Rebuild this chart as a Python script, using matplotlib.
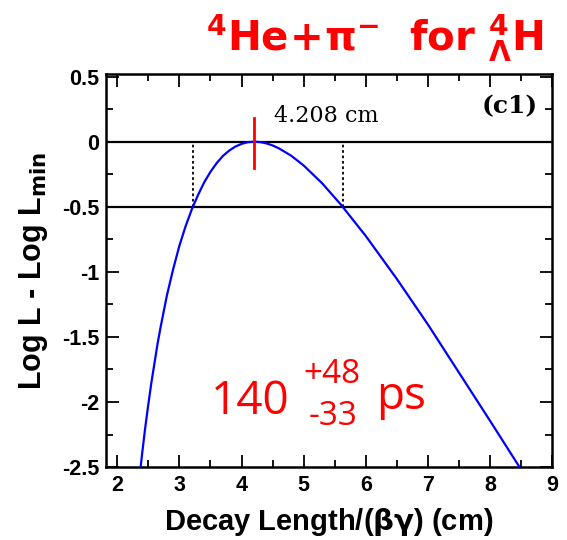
import matplotlib
matplotlib.use("Agg")
import matplotlib.pyplot as plt
from matplotlib.ticker import MultipleLocator

# likelihood scan: decay length/(beta gamma) in cm vs log L - log L_min
length = [2.33, 2.40, 2.45, 2.50, 2.55, 2.60, 2.65, 2.70, 2.80, 2.90, 3.00, 3.10,
          3.20, 3.30, 3.40, 3.50, 3.60, 3.70, 3.80, 3.90, 4.00, 4.10, 4.208, 4.30,
          4.40, 4.50, 4.60, 4.80, 5.00, 5.30, 5.60, 6.00, 6.50, 7.00, 7.50, 8.00,
          8.50, 8.60]
logl = [-2.70, -2.40, -2.20, -2.02, -1.85, -1.70, -1.55, -1.42, -1.18, -0.98,
        -0.80, -0.65, -0.52, -0.41, -0.312, -0.232, -0.165, -0.110, -0.069,
        -0.038, -0.017, -0.004, 0.0, -0.003, -0.013, -0.029, -0.051, -0.108,
        -0.183, -0.321, -0.484, -0.725, -1.055, -1.405, -1.775, -2.145, -2.52,
        -2.60]

best = 4.208
cross = [3.226, 5.63]
levels = [0.0, -0.5]

fig = plt.figure(figsize=(5.67, 5.40), dpi=100)
ax = fig.add_axes([0.187, 0.135, 0.787, 0.728])

ax.plot(length, logl, color="blue", lw=1.6, zorder=3)
for lv in levels:
    ax.axhline(lv, color="black", lw=1.6)
for c in cross:
    ax.plot([c, c], [-0.5, 0.0], color="black", lw=1.3, ls=(0, (1.5, 1.5)))
ax.plot([best, best], [0.18, -0.20], color="red", lw=2, zorder=4)

ax.text(4.52, 0.15, "%.3f cm" % best, family="DejaVu Serif", fontsize=16)
ax.text(8.76, 0.22, "(c1)", family="DejaVu Serif", fontweight="bold",
        fontsize=18, ha="right")

ax.set_xlim(1.82, 9.0)
ax.set_ylim(-2.5, 0.52)
ax.xaxis.set_major_locator(MultipleLocator(1))
ax.xaxis.set_minor_locator(MultipleLocator(0.5))
ax.yaxis.set_major_locator(MultipleLocator(0.5))
ax.yaxis.set_minor_locator(MultipleLocator(0.25))
ax.yaxis.set_major_formatter(plt.FuncFormatter(lambda v, p: "%g" % v))
ax.tick_params(which="both", direction="in", top=True, right=True, width=1.3)
ax.tick_params(which="major", length=9)
ax.tick_params(which="minor", length=5)
ax.tick_params(axis="y", pad=5)
ax.tick_params(axis="x", pad=6)
for lab in ax.get_xticklabels() + ax.get_yticklabels():
    lab.set_fontsize(15.5)
    lab.set_fontweight("bold")
    lab.set_family("Liberation Sans")
for s in ax.spines.values():
    s.set_linewidth(1.8)

ax.set_xlabel(r"Decay Length/($\mathbf{\beta\gamma}$) (cm)", fontsize=21,
              fontweight="bold", family="Liberation Sans")
ax.set_ylabel(r"Log L - Log L$_{\mathbf{min}}$", fontsize=22,
              fontweight="bold", family="Liberation Sans")
ax.xaxis.set_label_coords(0.5, -0.1)
ax.yaxis.set_label_coords(-0.126, 0.5)

fig.text(0.662, 0.905, r"$\mathbf{^{4}He\!+\!\pi^{-}}$  for $\mathbf{^{4}_{\Lambda}H}$",
         color="red", fontsize=29, fontweight="bold", family="DejaVu Sans",
         ha="center")

# lifetime result
ax.text(3.5, -2.09, "140", color="red", fontsize=33, family="Open Sans")
ax.text(5.0, -1.855, "+48", color="red", fontsize=24, family="Open Sans")
ax.text(5.08, -2.18, "-33", color="red", fontsize=24, family="Open Sans")
ax.text(6.16, -2.05, "ps", color="red", fontsize=33, family="Open Sans")

fig.savefig("out.png", dpi=100)
